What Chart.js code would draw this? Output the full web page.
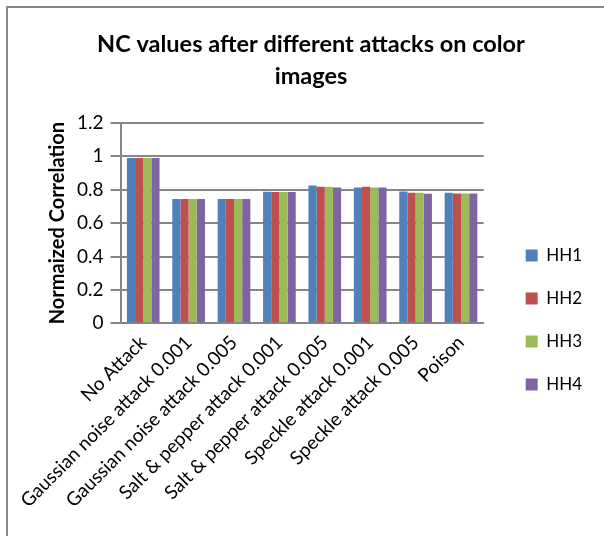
<!DOCTYPE html>
<html>
<head>
<meta charset="utf-8">
<script src="https://cdn.jsdelivr.net/npm/chart.js@4"></script>
<style>
  html, body { margin: 0; padding: 0; background: #fff; }
  #wrap { width: 604px; height: 536px; position: relative; }
</style>
</head>
<body>
<div id="wrap"><canvas id="chart" width="604" height="536"></canvas></div>
<script>
// Attack categories shown along the x axis
const categories = [
  "No Attack",
  "Gaussian noise attack 0.001",
  "Gaussian noise attack 0.005",
  "Salt & pepper attack 0.001",
  "Salt & pepper attack 0.005",
  "Speckle attack 0.001",
  "Speckle attack 0.005",
  "Poison"
];

// Normalized correlation per host image
const hh1 = [0.99, 0.744, 0.744, 0.788, 0.826, 0.814, 0.790, 0.782];
const hh2 = [0.99, 0.744, 0.744, 0.786, 0.818, 0.818, 0.782, 0.778];
const hh3 = [0.99, 0.744, 0.744, 0.786, 0.818, 0.814, 0.782, 0.778];
const hh4 = [0.99, 0.744, 0.744, 0.786, 0.814, 0.814, 0.776, 0.778];

const seriesNames = ["HH1", "HH2", "HH3", "HH4"];
const seriesColors = ["#4F81BD", "#C0504D", "#9BBB59", "#8064A2"];
const yTicks = [0, 0.2, 0.4, 0.6, 0.8, 1, 1.2];

const FONT = "Lato, 'Open Sans', 'Noto Sans', sans-serif";

// White page with a thin frame along the top and left edges
const framePlugin = {
  id: "frame",
  beforeDraw(chart) {
    const ctx = chart.ctx;
    ctx.save();
    ctx.fillStyle = "#ffffff";
    ctx.fillRect(0, 0, chart.width, chart.height);
    ctx.strokeStyle = "#878787";
    ctx.lineWidth = 2;
    ctx.beginPath();
    ctx.moveTo(7, chart.height);
    ctx.lineTo(7, 7);
    ctx.lineTo(chart.width, 7);
    ctx.stroke();
    ctx.restore();
  }
};

// Nudge the legend block away from the plot and down a little
const legendOffset = { dx: 16, dy: 55 };
const legendShiftPlugin = {
  id: "legendShift",
  afterLayout(chart) {
    const lg = chart.legend;
    if (!lg) return;
    lg.left += legendOffset.dx;
    lg.right += legendOffset.dx;
    lg.top += legendOffset.dy;
    lg.bottom += legendOffset.dy;
  }
};

const data = {
  labels: categories,
  datasets: [hh1, hh2, hh3, hh4].map((vals, i) => ({
    label: seriesNames[i],
    data: vals,
    backgroundColor: seriesColors[i],
    borderWidth: 0,
    categoryPercentage: 0.72,
    barPercentage: 1.0
  }))
};

new Chart(document.getElementById("chart"), {
  type: "bar",
  data,
  plugins: [framePlugin, legendShiftPlugin],
  options: {
    responsive: false,
    animation: false,
    layout: { padding: { left: 46, right: 28, top: 10, bottom: 16 } },
    plugins: {
      title: {
        display: true,
        text: ["NC values after different attacks on color", "images"],
        color: "#000",
        font: { family: FONT, size: 23.5, weight: "bold", lineHeight: 1.36 },
        padding: { top: 18, bottom: 31 }
      },
      legend: {
        position: "right",
        labels: {
          color: "#000",
          font: { family: FONT, size: 17 },
          boxWidth: 12,
          boxHeight: 12,
          padding: 26
        }
      },
      tooltip: { enabled: false }
    },
    scales: {
      x: {
        grid: { display: false, drawTicks: false },
        border: { color: "#868686", width: 2 },
        ticks: {
          color: "#000",
          font: { family: FONT, size: 19 },
          maxRotation: 45,
          minRotation: 45,
          padding: 8,
          autoSkip: false
        }
      },
      y: {
        min: 0,
        max: 1.2,
        afterBuildTicks(scale) { scale.ticks = yTicks.map(v => ({ value: v })); },
        grid: { color: "#868686", lineWidth: 2, drawTicks: true, tickLength: 10 },
        border: { color: "#868686", width: 2 },
        ticks: {
          color: "#000",
          font: { family: FONT, size: 19 },
          padding: 7,
          callback: v => String(v)
        },
        title: {
          display: true,
          text: "Normaized Correlation",
          color: "#000",
          font: { family: FONT, size: 20, weight: "bold" },
          padding: { top: 0, bottom: 0 }
        }
      }
    }
  }
});
</script>
</body>
</html>
